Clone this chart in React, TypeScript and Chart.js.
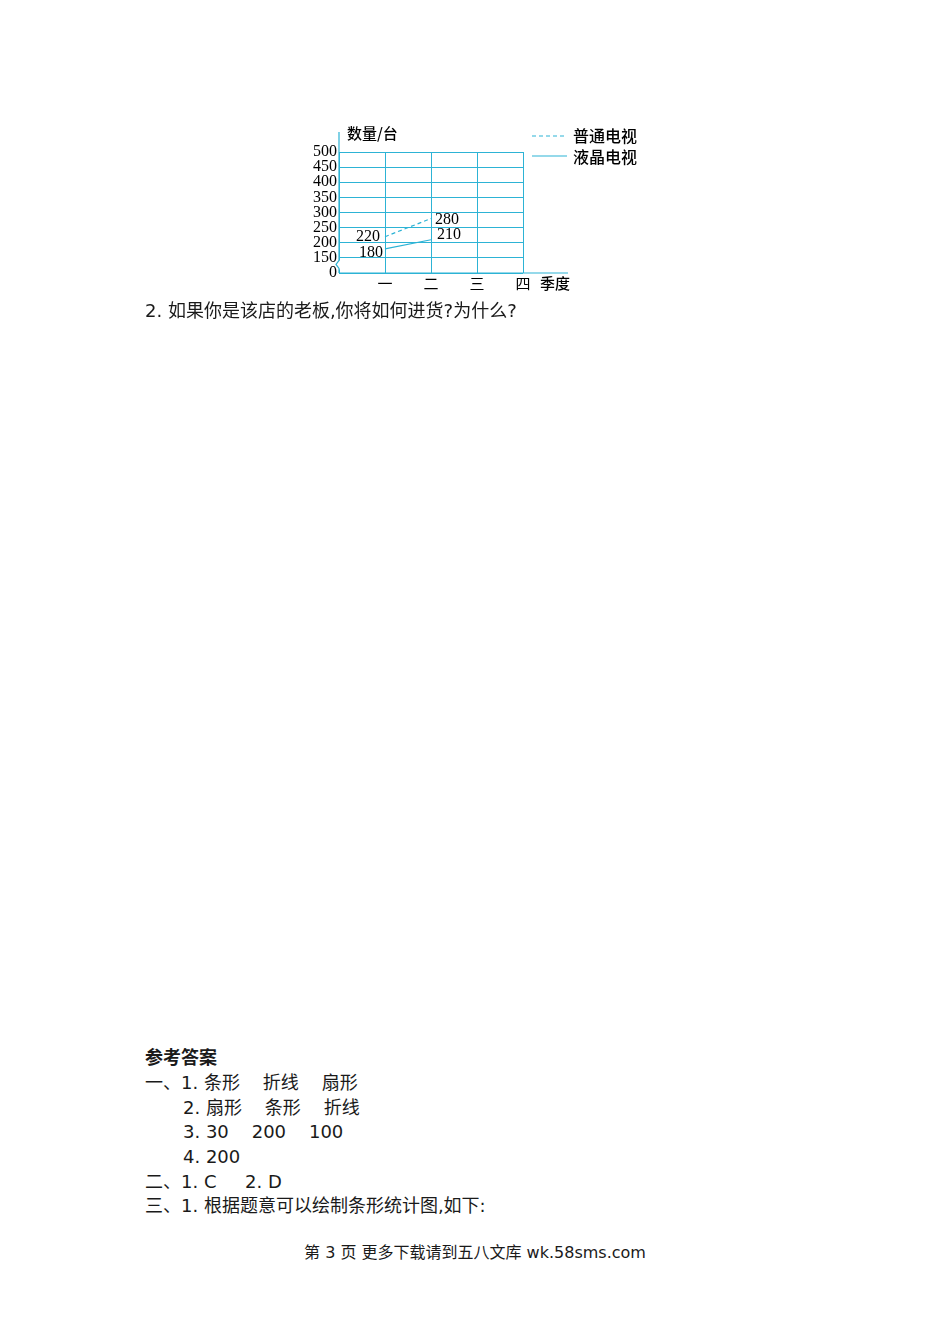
import { useEffect, useRef } from 'react';
import Chart from 'chart.js/auto';

const quarters = ['一', '二', '三', '四'];
const seriesNames = ['普通电视', '液晶电视'];
const ordinaryTV = [220, 280, null, null];
const lcdTV = [180, 210, null, null];
const yTickLabels = ['0', '150', '200', '250', '300', '350', '400', '450', '500'];

// the y axis is broken between 0 and 150
const BREAK_VALUE = 150;
const BREAK_SPAN = 50;
const toAxis = (v: number | null) =>
  v == null ? null : v >= BREAK_VALUE ? v - BREAK_VALUE + BREAK_SPAN : (v * BREAK_SPAN) / BREAK_VALUE;

const CYAN = '#2db3d5';
const INK = '#000';
const CJK = '"Noto Sans CJK SC", sans-serif';
const SERIF = '"Liberation Serif", serif';

// where each value label sits next to its point
const labelPlacement = [
  [{ dx: -5, dy: 0, align: 'right' }, { dx: 4, dy: 1, align: 'left' }],
  [{ dx: -2, dy: 4, align: 'right' }, { dx: 6, dy: -5, align: 'left' }],
];

const series = [
  { name: seriesNames[0], values: ordinaryTV, dash: [4, 3] },
  { name: seriesNames[1], values: lcdTV, dash: [] as number[] },
];

const decorations = {
  id: 'decorations',
  afterDraw(chart: Chart) {
    const { ctx } = chart;
    const { left, right, top, bottom } = chart.chartArea;
    const y = chart.scales.y;
    ctx.save();
    ctx.strokeStyle = CYAN;
    ctx.lineWidth = 1.2;

    // y axis with break mark
    const yb = y.getPixelForValue(BREAK_SPAN / 2);
    ctx.fillStyle = '#fff';
    ctx.fillRect(left - 2, yb - 5, 4, 9);
    ctx.beginPath();
    ctx.moveTo(left, top - 20);
    ctx.lineTo(left, yb - 5);
    ctx.lineTo(left - 3, yb - 1);
    ctx.lineTo(left, yb + 3);
    ctx.lineTo(left, bottom);
    ctx.stroke();

    // x axis
    ctx.beginPath();
    ctx.moveTo(left, bottom);
    ctx.lineTo(right + 45, bottom);
    ctx.stroke();

    ctx.fillStyle = INK;
    ctx.textBaseline = 'middle';
    ctx.font = `500 15px ${CJK}`;
    ctx.textAlign = 'left';
    ctx.fillText('数量/台', left + 8, top - 19);
    ctx.fillText('季度', right + 17, bottom + 10);

    // legend
    series.forEach((s, i) => {
      const ly = top - 16 + i * 20;
      ctx.beginPath();
      ctx.setLineDash(s.dash);
      ctx.moveTo(right + 9, ly);
      ctx.lineTo(right + 44, ly);
      ctx.stroke();
      ctx.setLineDash([]);
      ctx.font = `500 16px ${CJK}`;
      ctx.fillText(s.name, right + 50, ly + i);
    });

    // value labels
    ctx.font = `16px ${SERIF}`;
    series.forEach((s, i) => {
      const meta = chart.getDatasetMeta(i);
      let k = 0;
      s.values.forEach((v, j) => {
        if (v == null) return;
        const pt = meta.data[j + 1];
        const p = labelPlacement[i][k++] || { dx: 4, dy: 0, align: 'left' };
        ctx.textAlign = p.align as CanvasTextAlign;
        ctx.fillText(String(v), pt.x + p.dx, pt.y + p.dy);
      });
    });
    ctx.restore();
  },
};

function TVChart() {
  const canvasRef = useRef<HTMLCanvasElement | null>(null);
  const chartRef = useRef<Chart | null>(null);

  useEffect(() => {
    if (!canvasRef.current) return;
    const ctx = canvasRef.current.getContext('2d');
    if (!ctx) return;

    chartRef.current = new Chart(ctx, {
      type: 'line',
      data: {
        labels: ['', ...quarters],
        datasets: series.map((s) => ({
          label: s.name,
          data: [null, ...s.values.map(toAxis)],
          borderColor: CYAN,
          borderWidth: 1.2,
          borderDash: s.dash,
          pointRadius: 0,
          tension: 0,
          fill: false,
        })),
      },
      options: {
        animation: false,
        responsive: true,
        maintainAspectRatio: false,
        layout: { padding: { left: 0, top: 34, right: 137, bottom: 0 } },
        plugins: { legend: { display: false }, tooltip: { enabled: false } },
        scales: {
          x: {
            type: 'category',
            offset: false,
            grid: { color: CYAN, lineWidth: 1, drawTicks: false },
            border: { display: false },
            ticks: {
              color: INK,
              font: { family: CJK, size: 15 },
              padding: 1,
              maxRotation: 0,
              autoSkip: false,
            },
            afterFit: (s: any) => {
              s.height = 30;
            },
          },
          y: {
            min: 0,
            max: toAxis(Number(yTickLabels[yTickLabels.length - 1])) as number,
            grid: { color: CYAN, lineWidth: 1, drawTicks: false },
            border: { display: false },
            ticks: {
              stepSize: BREAK_SPAN,
              autoSkip: false,
              color: INK,
              font: { family: SERIF, size: 16 },
              padding: 2,
              callback: (_v: any, i: number) => yTickLabels[i],
            },
            afterFit: (s: any) => {
              s.width = 39;
            },
          },
        },
      },
      plugins: [decorations],
    });

    return () => {
      chartRef.current?.destroy();
    };
  }, []);

  return (
    <div style={{ position: 'absolute', left: 300, top: 118, width: 360, height: 185 }}>
      <canvas ref={canvasRef}></canvas>
    </div>
  );
}

const bodyFont = '"DejaVu Sans", "Noto Sans CJK SC", sans-serif';

const answerLines = [
  { x: 145, y: 1058, text: '参考答案', bold: true },
  { x: 145, y: 1083, text: '一、1. 条形    折线    扇形' },
  { x: 183, y: 1108, text: '2. 扇形    条形    折线' },
  { x: 183, y: 1132, text: '3. 30    200    100' },
  { x: 183, y: 1157, text: '4. 200' },
  { x: 145, y: 1182, text: '二、1. C     2. D' },
  { x: 145, y: 1206, text: '三、1. 根据题意可以绘制条形统计图,如下:' },
];

export default function App() {
  const line = (x: number, y: number, size: number): React.CSSProperties => ({
    position: 'absolute',
    left: x,
    top: y - 12,
    lineHeight: '24px',
    fontSize: size,
    fontFamily: bodyFont,
    color: '#1a1a1a',
    whiteSpace: 'pre',
  });

  return (
    <div
      style={{
        position: 'absolute',
        left: 0,
        top: 0,
        width: 950,
        height: 1344,
        overflow: 'hidden',
        background: '#fff',
      }}
    >
      <TVChart />
      <div style={line(145, 311, 18)}>2. 如果你是该店的老板,你将如何进货?为什么?</div>
      {answerLines.map((l) => (
        <div key={l.y} style={{ ...line(l.x, l.y, 18), fontWeight: l.bold ? 'bold' : 'normal' }}>
          {l.text}
        </div>
      ))}
      <div style={{ ...line(0, 1253, 16), width: 950, textAlign: 'center' }}>
        第 3 页 更多下载请到五八文库 wk.58sms.com
      </div>
    </div>
  );
}
